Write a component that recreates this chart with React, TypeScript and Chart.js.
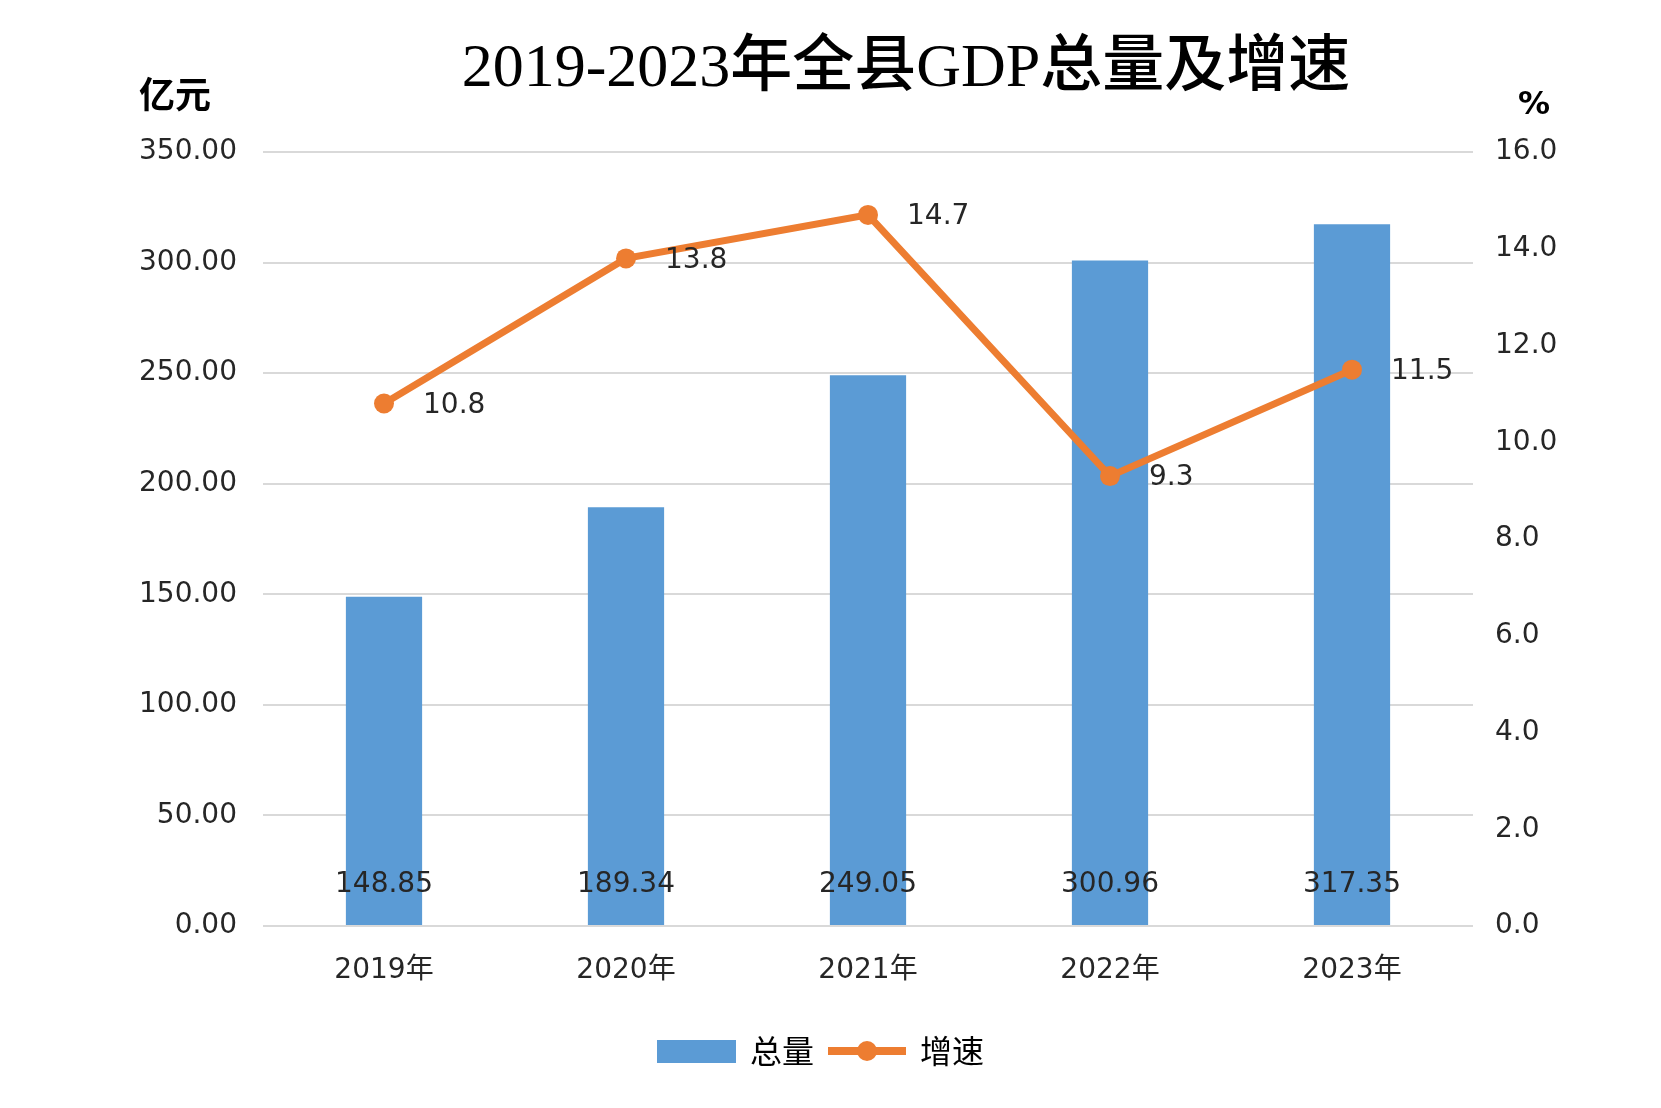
import React, { useRef, useEffect } from 'react';
import { Chart, registerables } from 'chart.js';

Chart.register(...registerables);

// chart data
const years = ['2019年', '2020年', '2021年', '2022年', '2023年'];
const totals = [148.85, 189.34, 249.05, 300.96, 317.35];
const growth = [10.8, 13.8, 14.7, 9.3, 11.5];
const seriesNames = ['总量', '增速'];
const titleText = '2019-2023年全县GDP总量及增速';
const leftUnit = '亿元';
const rightUnit = '%';
const leftMax = 350;
const leftStep = 50;
const rightMax = 16;
const rightStep = 2;

const BLUE = '#5B9BD5';
const ORANGE = '#ED7D31';
const TEXT = '#262626';
const SANS = '"DejaVu Sans", "Noto Sans CJK SC", sans-serif';
const CJK = '"Noto Sans CJK SC", sans-serif';
const SERIF = '"Liberation Serif", "Noto Sans CJK SC", serif';

const W = 1661;
const H = 1108;

const decorations = {
  id: 'decorations',
  afterDatasetsDraw(chart: any) {
    const ctx = chart.ctx;
    const bars = chart.getDatasetMeta(0).data;
    const pts = chart.getDatasetMeta(1).data;
    const base = chart.scales.y.getPixelForValue(0);
    ctx.save();
    ctx.font = `28px ${SANS}`;
    ctx.fillStyle = TEXT;
    ctx.textBaseline = 'middle';
    ctx.textAlign = 'center';
    bars.forEach((b: any, i: number) => ctx.fillText(totals[i].toFixed(2), b.x, base - 41));
    ctx.textAlign = 'left';
    pts.forEach((p: any, i: number) => ctx.fillText(growth[i].toFixed(1), p.x + 39, p.y + 2));
    ctx.restore();
  },
  afterDraw(chart: any) {
    const ctx = chart.ctx;
    ctx.save();
    // title
    ctx.fillStyle = '#000';
    ctx.font = `500 62px ${SERIF}`;
    ctx.textAlign = 'center';
    ctx.textBaseline = 'alphabetic';
    ctx.fillText(titleText, 906, 86);

    // axis units
    ctx.textBaseline = 'middle';
    ctx.font = `bold 36px ${CJK}`;
    ctx.fillText(leftUnit, 175, 94);
    ctx.font = `bold 32px ${SANS}`;
    ctx.fillText(rightUnit, 1534, 106);

    // legend
    const ly = 1051;
    let x = 657;
    ctx.fillStyle = BLUE;
    ctx.fillRect(x, ly - 11, 79, 23);
    x += 93;
    ctx.font = `32px ${CJK}`;
    ctx.textAlign = 'left';
    ctx.fillStyle = '#000';
    ctx.fillText(seriesNames[0], x, ly);
    x += ctx.measureText(seriesNames[0]).width + 14;
    ctx.strokeStyle = ORANGE;
    ctx.lineWidth = 8;
    ctx.beginPath();
    ctx.moveTo(x, ly);
    ctx.lineTo(x + 78, ly);
    ctx.stroke();
    ctx.fillStyle = ORANGE;
    ctx.beginPath();
    ctx.arc(x + 39, ly, 10, 0, Math.PI * 2);
    ctx.fill();
    x += 92;
    ctx.fillStyle = '#000';
    ctx.fillText(seriesNames[1], x, ly);
    ctx.restore();
  },
};

const App: React.FC = () => {
  const canvasRef = useRef<HTMLCanvasElement>(null);
  const chartRef = useRef<Chart | null>(null);

  useEffect(() => {
    if (!canvasRef.current) return;
    const ctx = canvasRef.current.getContext('2d');
    if (!ctx) return;
    if (chartRef.current) chartRef.current.destroy();

    chartRef.current = new Chart(ctx, {
      type: 'bar',
      data: {
        labels: years,
        datasets: [
          {
            type: 'bar',
            label: seriesNames[0],
            data: totals,
            backgroundColor: BLUE,
            barPercentage: 0.315,
            categoryPercentage: 1,
            yAxisID: 'y',
            order: 2,
          },
          {
            type: 'line',
            label: seriesNames[1],
            data: growth,
            borderColor: ORANGE,
            backgroundColor: ORANGE,
            borderWidth: 7,
            pointRadius: 10,
            pointBackgroundColor: ORANGE,
            pointBorderWidth: 0,
            tension: 0,
            yAxisID: 'y1',
            order: 1,
          } as any,
        ],
      },
      options: {
        responsive: false,
        animation: false,
        devicePixelRatio: 1,
        layout: { padding: { top: 152, left: 0, right: 0, bottom: 0 } },
        plugins: {
          legend: { display: false },
          tooltip: { enabled: false },
          title: { display: false },
        },
        scales: {
          x: {
            grid: { display: false, drawTicks: false },
            border: { display: false },
            ticks: { color: TEXT, font: { family: SANS, size: 28 }, padding: 28 },
            afterFit: (s: any) => { s.height = H - 926; },
          },
          y: {
            position: 'left',
            min: 0,
            max: leftMax,
            ticks: {
              stepSize: leftStep,
              color: TEXT,
              font: { family: SANS, size: 28 },
              padding: 26,
              callback: (v: any) => Number(v).toFixed(2),
            },
            grid: { color: '#d9d9d9', lineWidth: 2, drawTicks: false },
            border: { display: false },
            afterFit: (s: any) => { s.width = 263; },
          },
          y1: {
            position: 'right',
            min: 0,
            max: rightMax,
            ticks: {
              stepSize: rightStep,
              color: TEXT,
              font: { family: SANS, size: 28 },
              padding: 22,
              callback: (v: any) => Number(v).toFixed(1),
            },
            grid: { display: false, drawTicks: false },
            border: { display: false },
            afterFit: (s: any) => { s.width = W - 1473; },
          },
        },
      },
      plugins: [decorations],
    });

    return () => {
      if (chartRef.current) {
        chartRef.current.destroy();
        chartRef.current = null;
      }
    };
  }, []);

  return (
    <div style={{ position: 'fixed', left: 0, top: 0, width: W, height: H, background: '#fff' }}>
      <canvas ref={canvasRef} width={W} height={H} style={{ width: W, height: H }} />
    </div>
  );
};

export default App;
